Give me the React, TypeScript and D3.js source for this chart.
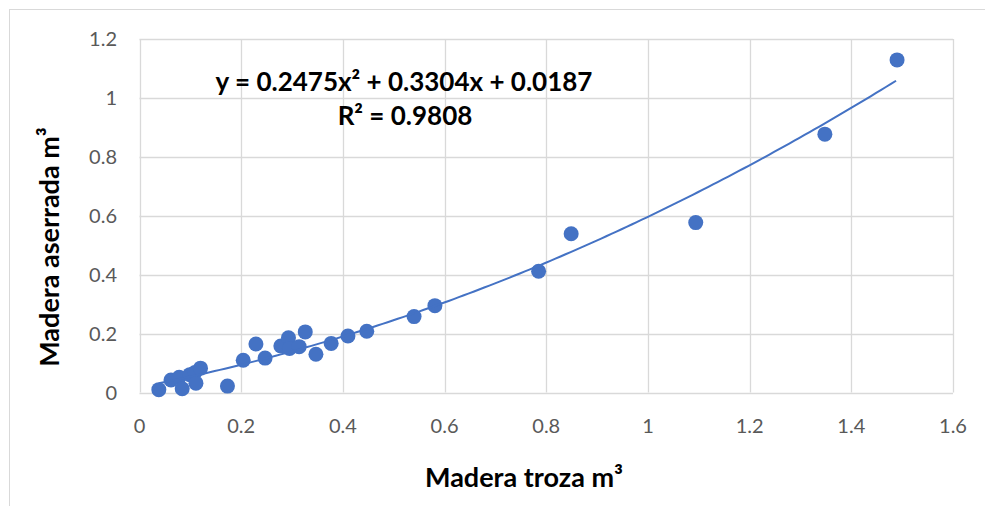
import React, { useEffect, useRef } from 'react'
import * as d3 from 'd3'

// Madera troza (x) vs Madera aserrada (y), m3
const trozaValues = [0.038, 0.062, 0.078, 0.084, 0.099, 0.109, 0.111, 0.12, 0.173, 0.204, 0.229, 0.247, 0.278, 0.293, 0.295, 0.314, 0.326, 0.347, 0.377, 0.41, 0.447, 0.54, 0.581, 0.785, 0.849, 1.094, 1.348, 1.49]
const aserradaValues = [0.01, 0.043, 0.052, 0.013, 0.061, 0.068, 0.032, 0.083, 0.022, 0.11, 0.165, 0.117, 0.158, 0.186, 0.15, 0.156, 0.206, 0.13, 0.167, 0.192, 0.208, 0.258, 0.295, 0.412, 0.539, 0.577, 0.877, 1.129]
const xTicks = [0, 0.2, 0.4, 0.6, 0.8, 1, 1.2, 1.4, 1.6]
const yTicks = [0, 0.2, 0.4, 0.6, 0.8, 1, 1.2]
const coef = [0.0187, 0.3304, 0.2475] // c, b, a

const FONT = 'Lato, "Open Sans", sans-serif'

function App() {
  const ref = useRef<SVGSVGElement>(null)

  useEffect(() => {
    const width = 985, height = 506
    const margin = { top: 39, right: 32, bottom: 114, left: 139.5 }

    const svg = d3.select(ref.current)
      .attr('width', width)
      .attr('height', height)
    svg.selectAll('*').remove()

    svg.append('rect')
      .attr('width', width).attr('height', height).attr('fill', 'white')
    // outer chart border
    svg.append('rect')
      .attr('x', 9.5).attr('y', 9.5)
      .attr('width', 1000).attr('height', 1000)
      .attr('fill', 'none').attr('stroke', '#d9d9d9')

    const x = d3.scaleLinear().domain([0, 1.6]).range([margin.left, width - margin.right])
    const y = d3.scaleLinear().domain([0, 1.2]).range([height - margin.bottom + 0.6, margin.top])

    const grid = svg.append('g')
    grid.selectAll('.hg').data(yTicks).enter().append('line')
      .attr('x1', x(0)).attr('x2', x(1.6))
      .attr('y1', d => Math.round(y(d)) + 0.5).attr('y2', d => Math.round(y(d)) + 0.5)
      .attr('stroke', '#d9d9d9').attr('stroke-width', 1.3)
    grid.selectAll('.vg').data(xTicks).enter().append('line')
      .attr('y1', y(0)).attr('y2', y(1.2))
      .attr('x1', d => Math.round(x(d)) + 0.5).attr('x2', d => Math.round(x(d)) + 0.5)
      .attr('stroke', '#d9d9d9').attr('stroke-width', 1.3)

    // tick labels
    svg.append('g').selectAll('text').data(yTicks).enter().append('text')
      .attr('x', 117).attr('y', d => y(d) + 7)
      .attr('text-anchor', 'end')
      .attr('font-family', FONT).attr('font-size', 20).attr('fill', '#595959')
      .text(d => d3.format('')(d))
    svg.append('g').selectAll('text').data(xTicks).enter().append('text')
      .attr('x', d => x(d)).attr('y', 433)
      .attr('text-anchor', 'middle')
      .attr('font-family', FONT).attr('font-size', 20).attr('fill', '#595959')
      .text(d => d3.format('')(d))

    // points
    const pts = trozaValues.map((v, i) => [v, aserradaValues[i]])
    svg.append('g').selectAll('circle').data(pts).enter().append('circle')
      .attr('cx', d => x(d[0])).attr('cy', d => y(d[1]))
      .attr('r', 7.5)
      .attr('fill', '#4472c4')

    // polynomial trendline
    const xs = d3.range(d3.min(trozaValues)!, d3.max(trozaValues)! + 0.001, 0.01)
    const trend = d3.line<number>()
      .x(d => x(d))
      .y(d => y(coef[0] + coef[1] * d + coef[2] * d * d))
    svg.append('path')
      .attr('d', trend(xs))
      .attr('fill', 'none').attr('stroke', '#4472c4').attr('stroke-width', 2)

    // equation
    svg.append('text')
      .attr('x', 404).attr('y', 91).attr('text-anchor', 'middle')
      .attr('font-family', FONT).attr('font-size', 26).attr('font-weight', 'bold').attr('fill', '#000')
      .text('y = 0.2475x² + 0.3304x + 0.0187')
    svg.append('text')
      .attr('x', 405).attr('y', 125).attr('text-anchor', 'middle')
      .attr('font-family', FONT).attr('font-size', 26).attr('font-weight', 'bold').attr('fill', '#000')
      .text('R² = 0.9808')

    // axis titles
    svg.append('text')
      .attr('x', 524).attr('y', 487).attr('text-anchor', 'middle')
      .attr('font-family', FONT).attr('font-size', 27).attr('font-weight', 'bold').attr('fill', '#000')
      .text('Madera troza m³')
    svg.append('text')
      .attr('transform', 'translate(59,247) rotate(-90)')
      .attr('text-anchor', 'middle')
      .attr('font-family', FONT).attr('font-size', 27).attr('font-weight', 'bold').attr('fill', '#000')
      .text('Madera aserrada m³')
  }, [])

  return <svg ref={ref} style={{ position: 'absolute', left: 0, top: 0 }}></svg>
}

export default App
